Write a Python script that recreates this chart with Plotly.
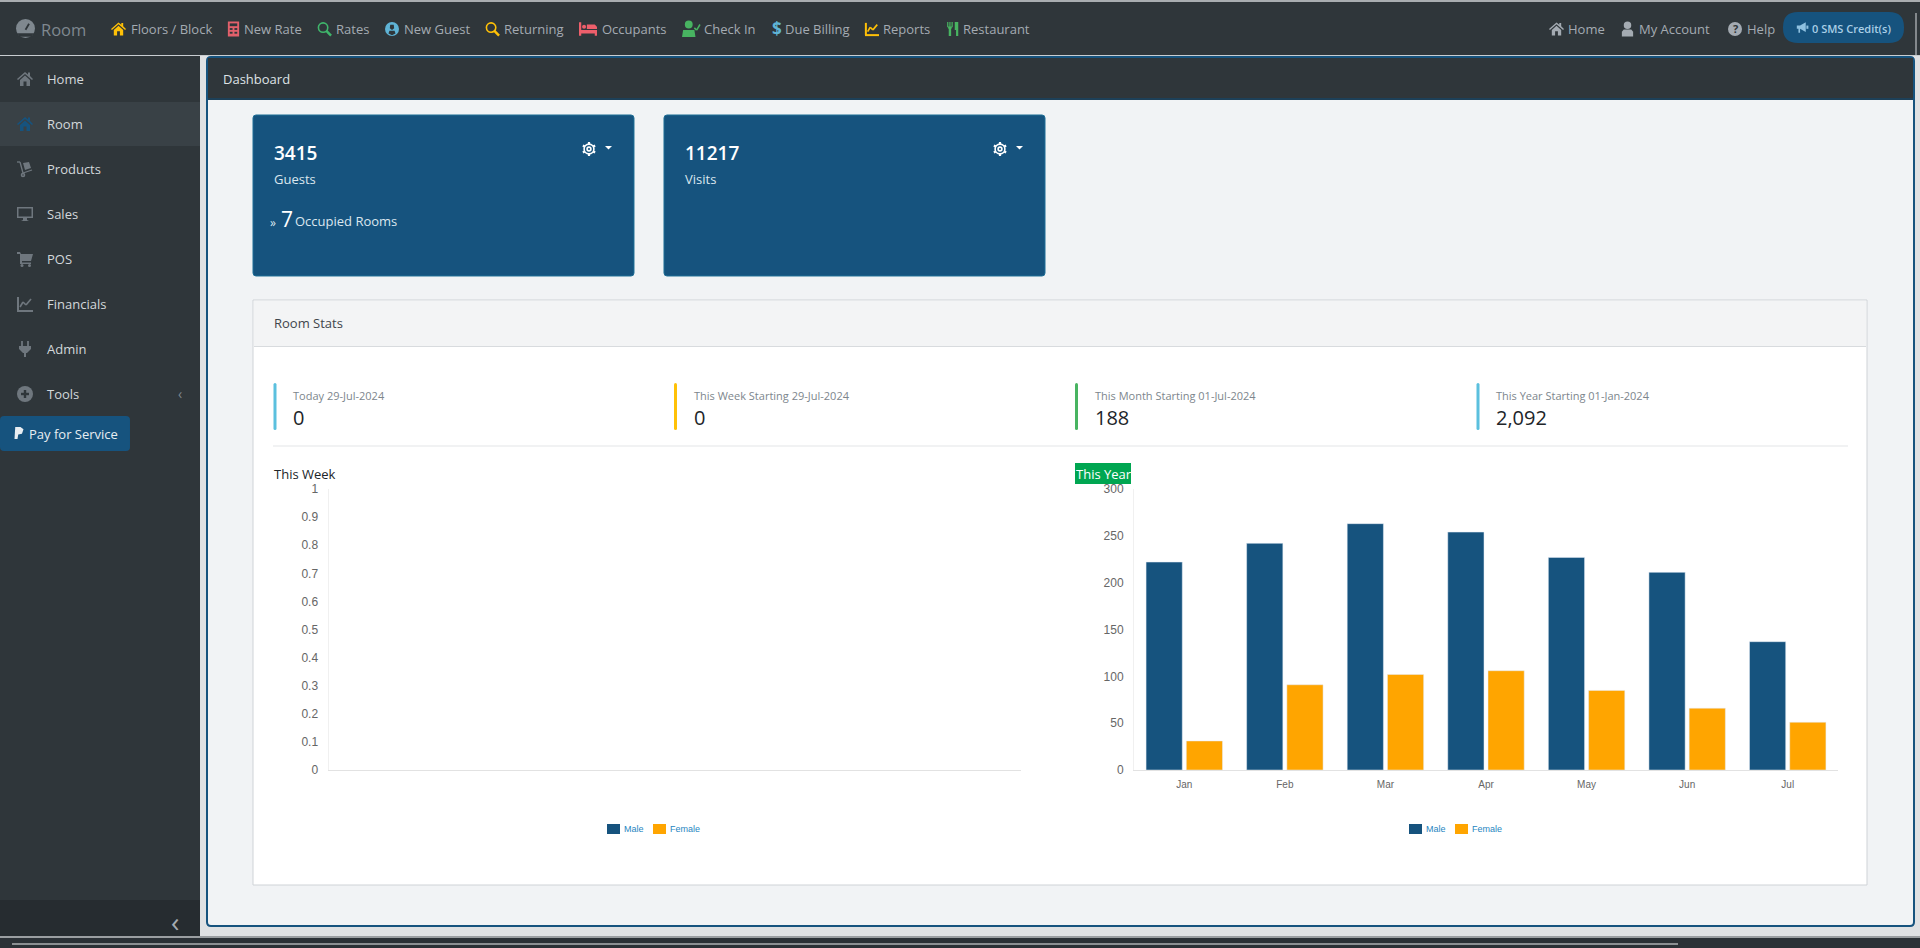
import plotly.graph_objects as go

W = 1920
H = 948
UI_FONT = 'Open Sans'
NAVY = '#16537e'
ORANGE = '#ffa500'
DARK = '#2f363a'
GREY = '#a4abb2'

months = ['Jan', 'Feb', 'Mar', 'Apr', 'May', 'Jun', 'Jul']
thisYear = {
  'Male': [222, 242, 263, 254, 227, 211, 137],
  'Female': [31, 91, 102, 106, 85, 66, 51],
}
colors = {'Male': NAVY, 'Female': ORANGE}

shapes = []
notes = []

def px(x):
  return x / W

def py(y):
  return 1 - y / H

def box(x0, y0, x1, y1, fill, line=None, width=1):
  shapes.append(dict(type='rect', xref='paper', yref='paper', layer='below',
                     x0=px(x0), x1=px(x1), y0=py(y0), y1=py(y1), fillcolor=fill,
                     line=dict(color=line, width=width if line else 0)))

def round_box(x0, y0, x1, y1, r, fill, line=None, width=1):
  p = 'M%f,%f' % (px(x0 + r), py(y0))
  p += 'L%f,%f Q%f,%f %f,%f' % (px(x1 - r), py(y0), px(x1), py(y0), px(x1), py(y0 + r))
  p += 'L%f,%f Q%f,%f %f,%f' % (px(x1), py(y1 - r), px(x1), py(y1), px(x1 - r), py(y1))
  p += 'L%f,%f Q%f,%f %f,%f' % (px(x0 + r), py(y1), px(x0), py(y1), px(x0), py(y1 - r))
  p += 'L%f,%f Q%f,%f %f,%f Z' % (px(x0), py(y0 + r), px(x0), py(y0), px(x0 + r), py(y0))
  shapes.append(dict(type='path', xref='paper', yref='paper', layer='below', path=p,
                     fillcolor=fill, line=dict(color=line, width=width if line else 0)))

def label(x, y, text, size=14, color='#212529', anchor='left', font=UI_FONT, weight=400):
  if anchor == 'left':
    x = x - 1
  notes.append(dict(xref='paper', yref='paper', x=px(x), y=py(y), text=text, showarrow=False,
                    xanchor=anchor, yanchor='middle', borderpad=0,
                    font=dict(family=font, size=size, color=color, weight=weight)))

# little pictures for the menus, each on a 16x16 grid
ICONS = {
  'home': [('p', [(0, 8), (8, 1), (11, 3.5), (11, 1.5), (13, 1.5), (13, 5), (16, 8), (15, 9), (8, 3), (1, 9)]),
           ('p', [(3, 9), (8, 4.5), (13, 9), (13, 15), (9.5, 15), (9.5, 10.5), (6.5, 10.5), (6.5, 15), (3, 15)])],
  'calc': [('p', [(2, 0), (14, 0), (14, 16), (2, 16)]),
           ('b', [(4, 2), (12, 2), (12, 5), (4, 5)]),
           ('b', [(4, 7), (7, 7), (7, 9), (4, 9)]), ('b', [(9, 7), (12, 7), (12, 9), (9, 9)]),
           ('b', [(4, 11), (7, 11), (7, 13), (4, 13)]), ('b', [(9, 11), (12, 11), (12, 13), (9, 13)])],
  'search': [('r', 6.5, 6.5, 5), ('l', 10, 10, 15, 15, 2.5)],
  'usercircle': [('c', 8, 8, 8), ('b', [(6, 3), (10, 3), (10.5, 7), (8, 9), (5.5, 7)]),
                 ('b', [(4, 13), (5, 10), (11, 10), (12, 13), (8, 15)])],
  'bed': [('p', [(0, 2), (2, 2), (2, 9), (16, 9), (16, 14), (14, 14), (14, 12), (2, 12), (2, 14), (0, 14)]),
          ('p', [(7, 4), (14, 4), (16, 6), (16, 8), (7, 8)]), ('c', 4.5, 6, 1.8)],
  'usercheck': [('c', 6, 4, 3.5), ('p', [(0, 15), (1, 9), (11, 9), (12, 15)]),
                ('l', 11, 7, 13, 9, 1.5), ('l', 13, 9, 16, 4, 1.5)],
  'chart': [('l', 1, 1, 1, 15, 2), ('l', 0, 15, 16, 15, 2), ('l', 3, 11, 6, 6, 1.6), ('l', 6, 6, 9, 9, 1.6),
            ('l', 9, 9, 14, 3, 1.6)],
  'food': [('l', 2, 0, 2, 6, 1.2), ('l', 4.5, 0, 4.5, 6, 1.2), ('l', 7, 0, 7, 6, 1.2), ('l', 4.5, 6, 4.5, 16, 2.4),
           ('p', [(2, 5), (7, 5), (6, 8), (3, 8)]), ('p', [(10, 0), (14, 0), (14, 16), (11.5, 16), (11.5, 9), (10, 9)])],
  'user': [('c', 8, 4, 4), ('p', [(2, 16), (2, 11), (4, 8.5), (12, 8.5), (14, 11), (14, 16)])],
  'help': [('c', 8, 8, 8)],
  'horn': [('p', [(1, 5), (5, 5), (12, 1), (12, 13), (5, 9), (5, 14), (3, 14), (3, 9), (1, 9)]), ('l', 14, 5, 14, 9, 2)],
  'dolly': [('l', 0, 1, 3, 1, 1.3), ('l', 3, 1, 6, 12, 1.3), ('l', 6, 12, 15, 9, 1.3), ('r', 6, 14, 1.5),
            ('p', [(6, 2), (12, 1), (14, 7), (8, 9)])],
  'monitor': [('p', [(0, 1), (16, 1), (16, 12), (0, 12)]), ('b', [(1.5, 2.5), (14.5, 2.5), (14.5, 10.5), (1.5, 10.5)]),
              ('p', [(6, 12), (10, 12), (10, 14), (12, 15), (4, 15), (6, 14)])],
  'cart': [('p', [(0, 1), (3, 1), (4, 3), (16, 3), (14, 10), (5, 10), (5, 11.5), (14, 11.5), (14, 13), (3, 13), (3, 3), (0, 3)]),
           ('c', 5, 14.5, 1.5), ('c', 12.5, 14.5, 1.5)],
  'plug': [('l', 5, 0, 5, 5, 1.8), ('l', 11, 0, 11, 5, 1.8), ('p', [(2, 5), (14, 5), (14, 8), (10, 12), (9, 12), (9, 16), (7, 16), (7, 12), (6, 12), (2, 8)])],
  'plus': [('c', 8, 8, 8), ('w', 8, 4, 8, 12, 2.4), ('w', 4, 8, 12, 8, 2.4)],
  'paypal': [('p', [(3, 0), (10, 0), (14, 3), (12, 9), (7, 10), (6, 16), (2, 16)])],
  'gear': [('r', 8, 8, 2.2), ('r', 8, 8, 5.6), ('l', 8, 0, 8, 2.4, 2.2), ('l', 8, 13.6, 8, 16, 2.2),
           ('l', 1, 4, 3.1, 5.2, 2.2), ('l', 12.9, 10.8, 15, 12, 2.2), ('l', 1, 12, 3.1, 10.8, 2.2), ('l', 12.9, 5.2, 15, 4, 2.2)],
  'logo': [('c', 8, 8, 8), ('w', 8, 9, 11, 4, 1.8), ('b', [(1, 12), (15, 12), (13, 15), (3, 15)])],
}

def icon(name, x, y, size, color, back=DARK):
  # x, y is the top left corner of the picture
  k = size / 16.0
  for part in ICONS[name]:
    kind = part[0]
    if kind in 'pb':
      pts = part[1]
      p = 'M' + ' L'.join('%f,%f' % (px(x + a * k), py(y + b * k)) for a, b in pts) + ' Z'
      shapes.append(dict(type='path', xref='paper', yref='paper', layer='below', path=p,
                         fillcolor=color if kind == 'p' else back, line=dict(width=0)))
    elif kind in 'cr':
      cx, cy, r = part[1:]
      shapes.append(dict(type='circle', xref='paper', yref='paper', layer='below',
                         x0=px(x + (cx - r) * k), x1=px(x + (cx + r) * k),
                         y0=py(y + (cy - r) * k), y1=py(y + (cy + r) * k),
                         fillcolor=color if kind == 'c' else 'rgba(0,0,0,0)',
                         line=dict(color=color, width=0 if kind == 'c' else 1.6)))
    else:
      a, b, c, d, w = part[1:]
      shapes.append(dict(type='line', xref='paper', yref='paper', layer='below',
                         x0=px(x + a * k), x1=px(x + c * k), y0=py(y + b * k), y1=py(y + d * k),
                         line=dict(color=color if kind == 'l' else back, width=w)))

def caret(x0, x1, y0, y1, color='white'):
  p = 'M%f,%f L%f,%f L%f,%f Z' % (px(x0), py(y0), px(x1), py(y0), px((x0 + x1) / 2.0), py(y1))
  shapes.append(dict(type='path', xref='paper', yref='paper', layer='below', path=p,
                     fillcolor=color, line=dict(width=0)))

def drawPage():
  box(0, 0, W, H, '#dfe1e3')
  box(0, 0, W, 2, '#a9adb0')
  box(0, 2, W, 55, DARK)
  box(0, 55, W, 56, '#c9cdd0')
  box(0, 56, 200, 900, DARK)
  box(0, 900, 200, 937, '#262c30')
  box(0, 937, W, H, '#2b3136')
  box(0, 936, W, 938, '#9a9ea1')
  box(12, 943, 1678, 945, '#8c9093')
  box(1915, 13, 1917, 55, '#83888c')

  # the big panel with its blue rim
  round_box(207, 57, 1914, 926, 4, '#f1f3f5', NAVY, 2)
  box(208, 58, 1913, 99, DARK)
  box(208, 98, 1913, 100, '#1d4058')
  label(222.5, 79, 'Dashboard', 13, '#dfe3e6')

def drawTopBar():
  icon('logo', 16, 19, 19, '#7f888f')
  label(40.5, 29, 'Room', 16.5, '#7f888f')
  items = [
    ('home', 111, 130.5, 'Floors / Block', '#ffc107', 15),
    ('calc', 226, 244, 'New Rate', '#e2606b', 15),
    ('search', 317, 335.5, 'Rates', '#3fb56b', 15),
    ('usercircle', 385, 403.5, 'New Guest', '#5fb4d6', 14),
    ('search', 485, 504, 'Returning', '#ffc107', 15),
    ('bed', 579, 601.5, 'Occupants', '#ee5f6b', 18),
    ('usercheck', 682, 704, 'Check In', '#48b461', 18),
    ('chart', 865, 883, 'Reports', '#ffc107', 14),
    ('food', 946, 963, 'Restaurant', '#48b461', 14),
    ('home', 1549, 1568, 'Home', GREY, 15),
    ('user', 1620, 1638.5, 'My Account', GREY, 15),
    ('help', 1728, 1746.5, 'Help', GREY, 14),
  ]
  for name, ix, tx, text, color, size in items:
    icon(name, ix, 29 - size / 2.0, size, color)
    label(tx, 28.5, text, 13, GREY)
  label(772, 28.5, '$', 17, '#5fb4d6', font=UI_FONT, weight=700)
  label(784.5, 28.5, 'Due Billing', 13, GREY)
  label(1735, 28.5, '?', 11, DARK, anchor='center', weight=700)
  round_box(1783, 12, 1904, 43, 15, NAVY)
  icon('horn', 1796, 21.5, 13, '#8fc1e0', NAVY)
  label(1811.5, 28.5, '0 SMS Credit(s)', 11, '#a9cfe6', weight=600)

def drawSideBar():
  box(0, 102, 200, 146, '#394146')
  rows = [('home', 'Home', 79), ('home', 'Room', 124), ('dolly', 'Products', 169), ('monitor', 'Sales', 214),
          ('cart', 'POS', 259), ('chart', 'Financials', 304), ('plug', 'Admin', 349), ('plus', 'Tools', 394)]
  for name, text, y in rows:
    col = NAVY if text == 'Room' else '#6f777e'
    icon(name, 17, y - 8, 16, col, '#394146' if text == 'Room' else DARK)
    label(46.5, y, text, 13, '#d3d8db')
  label(180, 394, '‹', 14, '#7f878e', anchor='center')
  round_box(0, 416, 130, 451, 4, NAVY)
  icon('paypal', 13, 427, 12, '#e8eef2', NAVY)
  label(28.5, 434, 'Pay for Service', 13, '#e8eef2')
  label(175, 921, '‹', 28, '#a4abb2', anchor='center')

def drawCards():
  for x0, x1, num, txt in [(253, 634, '3415', 'Guests'), (664, 1045, '11217', 'Visits')]:
    round_box(x0, 115, x1, 276, 3, NAVY, '#1f6f97', 1)
    label(x0 + 20.5, 153, num, 19, 'white', weight=600)
    label(x0 + 20.5, 179, txt, 13, '#dbe7ef')
    icon('gear', x1 - 52, 142, 14, 'white', NAVY)
    caret(x1 - 29, x1 - 22, 146, 149.5)
  label(269.5, 222, '»', 12, '#dbe7ef')
  label(280.5, 219, '7', 21, 'white')
  label(295, 221, 'Occupied Rooms', 13, '#dbe7ef')

def drawStats():
  box(253, 300, 1867, 885, 'white', '#cfd3d7', 1)
  box(254, 301, 1866, 346, '#f3f4f5')
  box(254, 346, 1866, 347, '#d8dbde')
  label(273.5, 323, 'Room Stats', 13, '#3f464c')
  stats = [
    (275, 'Today 29-Jul-2024', '0', '#5bc0de'),
    (675.5, 'This Week Starting 29-Jul-2024', '0', '#ffc107'),
    (1076.5, 'This Month Starting 01-Jul-2024', '188', '#48b461'),
    (1478, 'This Year Starting 01-Jan-2024', '2,092', '#5bc0de'),
  ]
  for x, head, value, color in stats:
    round_box(x - 1.5, 383, x + 1.5, 430, 1.5, color)
    label(x + 18, 395, head, 11, '#7d868d')
    label(x + 18, 417, value, 20, '#212529')
  box(273, 445.5, 1848, 446.5, '#e3e5e7')
  label(273.5, 474, 'This Week', 13, '#212529')
  box(1075, 463, 1131, 484, '#00a651')
  label(1076, 474, 'This Year', 13, 'white')

def drawKey(x, gap):
  # legend under a chart, swatch then name
  for name in thisYear:
    box(x, 824, x + 13, 834, colors[name])
    label(x + 17, 829, name, 9, '#1f86c1', font='Liberation Sans')
    x = x + gap

drawPage()
drawTopBar()
drawSideBar()
drawCards()
drawStats()
drawKey(607, 46)
drawKey(1409, 46)

fig = go.Figure()
for name in thisYear:
  fig.add_trace(go.Bar(x=[], y=[], name=name, marker_color=colors[name], xaxis='x', yaxis='y', showlegend=False))
  fig.add_trace(go.Bar(x=months, y=thisYear[name], name=name, marker_color=colors[name], xaxis='x2', yaxis='y2', showlegend=False))

axis_font = dict(family='Liberation Sans', size=12, color='#666666')
fig.update_layout(
    autosize=False,
    width=W,
    height=H,
    margin=dict(l=0, r=0, t=0, b=0, pad=0, autoexpand=False),
    paper_bgcolor='rgba(0,0,0,0)',
    plot_bgcolor='rgba(0,0,0,0)',
    barmode='group',
    bargap=0.2,
    bargroupgap=0.1,
    shapes=shapes,
    annotations=notes,
    xaxis=dict(domain=[px(328.5), px(1021)], showgrid=False, zeroline=False, showticklabels=False,
               range=[0, 1], showline=True, linecolor='#e2e2e2', linewidth=1, anchor='y'),
    yaxis=dict(domain=[py(770), py(489)], range=[0, 1], dtick=0.1, tickfont=axis_font, showgrid=False,
               zeroline=False, showline=True, linecolor='#f0f0f0', linewidth=1, ticklabelstandoff=7, anchor='x'),
    xaxis2=dict(domain=[px(1134), px(1838)], showgrid=False, zeroline=False, showline=True, linecolor='#e2e2e2',
                linewidth=1, tickfont=dict(family='Liberation Sans', size=10, color='#666666'), ticklabelstandoff=5,
                anchor='y2', categoryorder='array', categoryarray=months),
    yaxis2=dict(domain=[py(770), py(489)], range=[0, 300], dtick=50, tickfont=axis_font, showgrid=False,
                zeroline=False, showline=True, linecolor='#f0f0f0', linewidth=1, ticklabelstandoff=7, anchor='x2'),)

fig.write_html("out.html", config=dict(displayModeBar=False),
               post_script="document.body.style.margin='0';document.body.style.overflow='hidden';")
